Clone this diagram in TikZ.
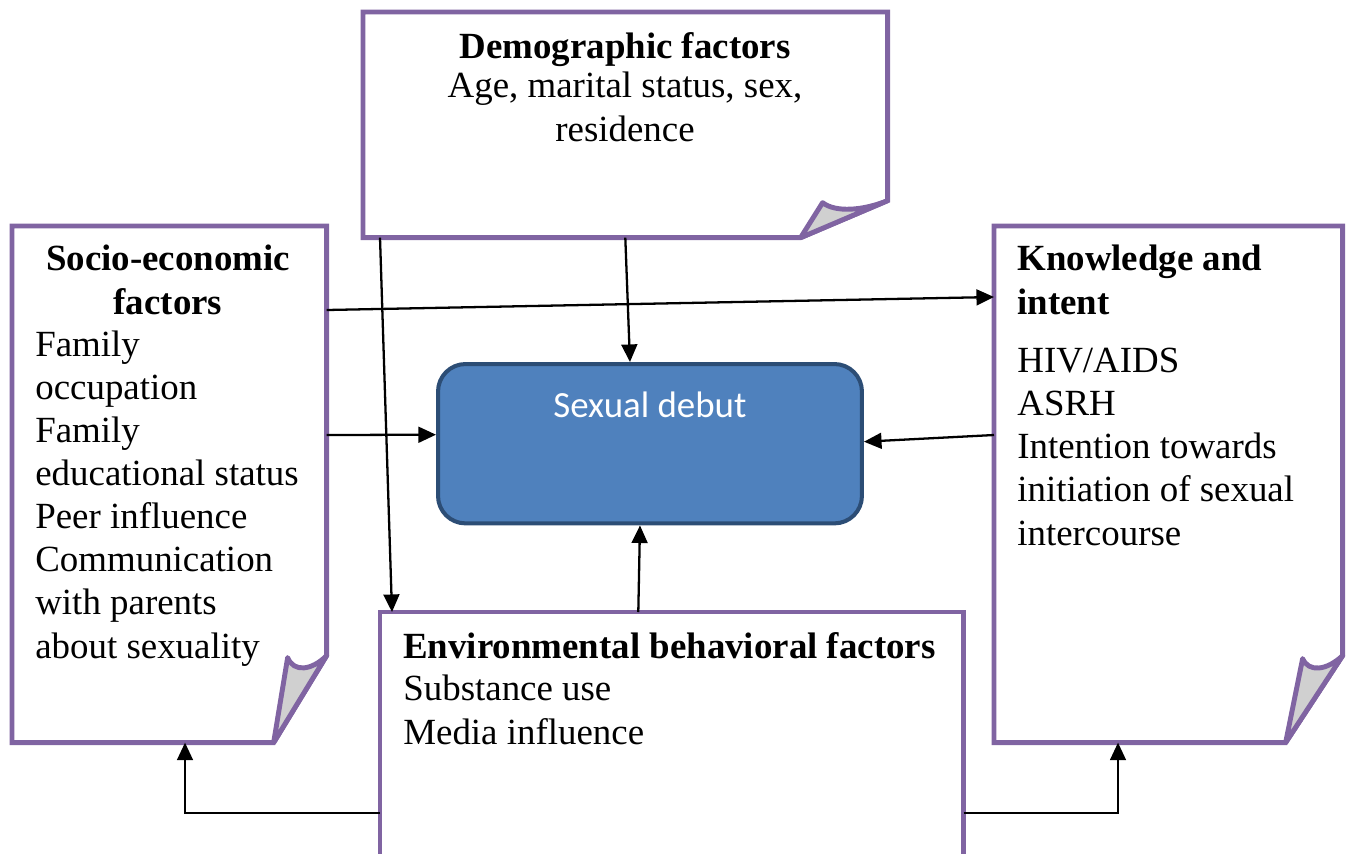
\documentclass[tikz,border=0pt]{standalone}
\usepackage{fontspec}
\setmainfont{Liberation Serif}
\newfontfamily\debutfont{Carlito}
\usetikzlibrary{positioning,calc,arrows.meta}

\definecolor{paperpurple}{HTML}{8064A2}
\definecolor{debutblue}{HTML}{4F81BD}
\definecolor{debutedge}{HTML}{2C4D75}
\definecolor{foldgray}{HTML}{D0D0D0}

\tikzset{
  paper/.style={draw=none, inner sep=0pt, anchor=north west},
  paperline/.style={draw=paperpurple, line width=2.8pt, line join=miter},
  fold/.style={fill=foldgray, draw=paperpurple, line width=2.8pt, line join=round},
  heading/.style={font=\fontsize{21}{24.5}\selectfont\bfseries, inner sep=0pt},
  body/.style={font=\fontsize{21}{24.5}\selectfont, inner sep=0pt},
  link/.style={-{Triangle[length=10pt,width=9pt]}, line width=1.3pt},
}

\begin{document}
\begin{tikzpicture}[x=0.02cm,y=-0.02cm]
	\useasboundingbox (0,0) rectangle (1348,853);
	
	% the four papers and the central box
	\node[paper, minimum width=10.48cm, minimum height=4.5cm] (demo) at (363,12) {};
	\node[paper, minimum width=6.28cm, minimum height=10.32cm] (socio) at (12,226) {};
	\node[paper, minimum width=6.96cm, minimum height=10.32cm] (know) at (994,226) {};
	\node[paper, minimum width=11.66cm, minimum height=4.82cm] (env) at (380,612) {};
	\node[paper, draw=debutedge, line width=2.3pt, fill=debutblue, rounded corners=0.55cm,
		minimum width=8.48cm, text height=30.6pt, text depth=60.1pt,
		font=\debutfont\fontsize{21}{24}\selectfont, text=white] (debut) at (436,362) {Sexual debut};
	
	\draw[paperline] (demo.south west) -- (demo.north west) -- (demo.north east)
		-- ($(demo.south east)+(0,-37)$) -- ($(demo.south east)+(-87,0)$) -- cycle;
	\draw[fold] ($(demo.south east)+(-87,0)$) -- ($(demo.south east)+(-65,-35)$)
		.. controls ($(demo.south east)+(-52,-25)$) and ($(demo.south east)+(-25,-27)$) .. ($(demo.south east)+(0,-37)$) -- cycle;
	
	\draw[paperline] (socio.south west) -- (socio.north west) -- (socio.north east)
		-- ($(socio.south east)+(0,-87)$) -- ($(socio.south east)+(-53,0)$) -- cycle;
	\draw[fold] ($(socio.south east)+(-53,0)$) -- ($(socio.south east)+(-39,-85)$)
		.. controls ($(socio.south east)+(-33,-70)$) and ($(socio.south east)+(-15,-72)$) .. ($(socio.south east)+(0,-87)$) -- cycle;
	
	\draw[paperline] (know.south west) -- (know.north west) -- (know.north east)
		-- ($(know.south east)+(0,-87)$) -- ($(know.south east)+(-57,0)$) -- cycle;
	\draw[fold] ($(know.south east)+(-57,0)$) -- ($(know.south east)+(-40,-84)$)
		.. controls ($(know.south east)+(-34,-70)$) and ($(know.south east)+(-16,-72)$) .. ($(know.south east)+(0,-87)$) -- cycle;
	
	\draw[paperline] (env.south west) -- (env.north west) -- (env.north east) -- (env.south east);
	
	% texts (multi-line nodes sit on the baseline of their last line)
	\node[heading, anchor=base] (demohead) at (625,58) {Demographic factors};
	\node[body, anchor=base, align=center] (demobody) at (625,141) {Age, marital status, sex,\\residence};
	\node[heading, anchor=base, align=center] (sociohead) at (168,314) {Socio-economic\\factors};
	\node[body, anchor=base west, align=left] (sociobody) at (35,658) {Family\\occupation\\Family\\educational status\\Peer influence\\Communication\\with parents\\about sexuality};
	\node[heading, anchor=base west, align=left] (knowhead) at (1017,314) {Knowledge and\\intent};
	\node[body, anchor=base west, align=left] (knowbody) at (1017,545) {HIV/AIDS\\ASRH\\Intention towards\\initiation of sexual\\intercourse};
	\node[heading, anchor=base west] (envhead) at (403,658) {Environmental behavioral factors};
	\node[body, anchor=base west, align=left] (envbody) at (403,744) {Substance use\\Media influence};
	
	% connectors
	\draw[link] ($(demo.south west)+(17,0)$) -- ($(env.north west)+(12,0)$);
	\draw[link] (demo.south) -- ($(debut.north)+(-20,0)$);
	\draw[link] ($(socio.north east)+(0,84)$) -- ($(know.north west)+(0,71)$);
	\draw[link] ($(socio.north east)+(0,209)$) -- ($(debut.west)+(0,-9)$);
	\draw[link] ($(know.north west)+(0,209)$) -- ($(debut.east)+(0,-2)$);
	\draw[link] ($(env.north)+(-33.5,0)$) -- ($(debut.south)+(-10,0)$);
	\draw[link] ($(env.north west)+(0,201)$) -| ($(socio.south west)+(173,0)$);
	\draw[link] ($(env.north east)+(0,201)$) -| ($(know.south west)+(124,0)$);
\end{tikzpicture}
\end{document}
